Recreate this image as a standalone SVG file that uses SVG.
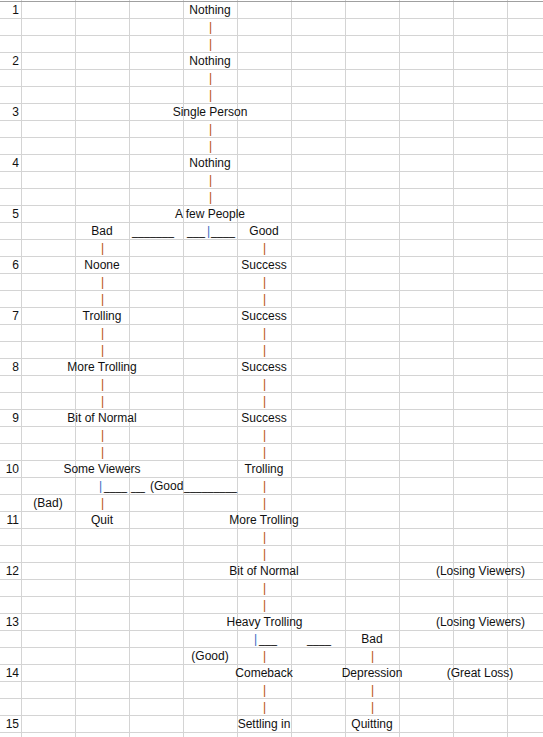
<svg xmlns="http://www.w3.org/2000/svg" width="543" height="737" viewBox="0 0 543 737">
<style>
.grid{stroke:#d4d4d4;stroke-width:1;fill:none}
.top{stroke:#a0a0a0;stroke-width:1}
text{font-family:"Liberation Sans",Arial,sans-serif;font-size:12px;fill:#111}
.c{text-anchor:middle}
.n{text-anchor:end}
.s{text-anchor:start}
.p{fill:#b84e0c;text-anchor:middle}
.b{fill:#3c6cc4;text-anchor:middle}
</style>
<rect x="0" y="0" width="543" height="737" fill="#fff"/>
<g id="grid">
<path class="grid" d="M21.5 0V737M75.5 0V737M129.5 0V737M183.5 0V737M237.5 0V737M291.5 0V737M345.5 0V737M399.5 0V737M453.5 0V737M507.5 0V737"/>
<path class="grid" d="M0 18.5H543M0 35.5H543M0 52.5H543M0 69.5H543M0 86.5H543M0 103.5H543M0 120.5H543M0 137.5H543M0 154.5H543M0 171.5H543M0 188.5H543M0 205.5H543M0 222.5H543M0 239.5H543M0 256.5H543M0 273.5H543M0 290.5H543M0 307.5H543M0 324.5H543M0 341.5H543M0 358.5H543M0 375.5H543M0 392.5H543M0 409.5H543M0 426.5H543M0 443.5H543M0 460.5H543M0 477.5H543M0 494.5H543M0 511.5H543M0 528.5H543M0 545.5H543M0 562.5H543M0 579.5H543M0 596.5H543M0 613.5H543M0 630.5H543M0 647.5H543M0 664.5H543M0 681.5H543M0 698.5H543M0 715.5H543M0 732.5H543"/>
<line class="top" x1="0" y1="1.5" x2="543" y2="1.5"/>
</g>
<g id="row-numbers">
<text class="n" x="19" y="13.5">1</text>
<text class="n" x="19" y="64.5">2</text>
<text class="n" x="19" y="115.5">3</text>
<text class="n" x="19" y="166.5">4</text>
<text class="n" x="19" y="217.5">5</text>
<text class="n" x="19" y="268.5">6</text>
<text class="n" x="19" y="319.5">7</text>
<text class="n" x="19" y="370.5">8</text>
<text class="n" x="19" y="421.5">9</text>
<text class="n" x="19" y="472.5">10</text>
<text class="n" x="19" y="523.5">11</text>
<text class="n" x="19" y="574.5">12</text>
<text class="n" x="19" y="625.5">13</text>
<text class="n" x="19" y="676.5">14</text>
<text class="n" x="19" y="727.5">15</text>
</g>
<g id="connectors">
<text class="p" x="210.5" y="30.5">|</text><text class="p" x="210.5" y="47.5">|</text>
<text class="p" x="210.5" y="81.5">|</text><text class="p" x="210.5" y="98.5">|</text>
<text class="p" x="210.5" y="132.5">|</text><text class="p" x="210.5" y="149.5">|</text>
<text class="p" x="210.5" y="183.5">|</text><text class="p" x="210.5" y="200.5">|</text>
<text class="s" x="132" y="234.5" textLength="42" lengthAdjust="spacingAndGlyphs">_______</text>
<text class="s" x="187" y="234.5" textLength="18" lengthAdjust="spacingAndGlyphs">___</text>
<text class="b" x="208.5" y="234.5">|</text>
<text class="s" x="211" y="234.5" textLength="24" lengthAdjust="spacingAndGlyphs">____</text>
<text class="p" x="102.5" y="251.5">|</text><text class="p" x="264.5" y="251.5">|</text>
<text class="p" x="102.5" y="285.5">|</text><text class="p" x="264.5" y="285.5">|</text>
<text class="p" x="102.5" y="302.5">|</text><text class="p" x="264.5" y="302.5">|</text>
<text class="p" x="102.5" y="336.5">|</text><text class="p" x="264.5" y="336.5">|</text>
<text class="p" x="102.5" y="353.5">|</text><text class="p" x="264.5" y="353.5">|</text>
<text class="p" x="102.5" y="387.5">|</text><text class="p" x="264.5" y="387.5">|</text>
<text class="p" x="102.5" y="404.5">|</text><text class="p" x="264.5" y="404.5">|</text>
<text class="p" x="102.5" y="438.5">|</text><text class="p" x="264.5" y="438.5">|</text>
<text class="p" x="102.5" y="455.5">|</text><text class="p" x="264.5" y="455.5">|</text>
<text class="b" x="100.5" y="489.5">|</text>
<text class="s" x="104" y="489.5" textLength="23" lengthAdjust="spacingAndGlyphs">____</text>
<text class="s" x="131" y="489.5" textLength="14" lengthAdjust="spacingAndGlyphs">___</text>
<text class="s" x="184" y="489.5" textLength="53" lengthAdjust="spacingAndGlyphs">_________</text>
<text class="p" x="264.5" y="489.5">|</text>
<text class="p" x="102.5" y="506.5">|</text><text class="p" x="264.5" y="506.5">|</text>
<text class="p" x="264.5" y="540.5">|</text><text class="p" x="264.5" y="557.5">|</text>
<text class="p" x="264.5" y="591.5">|</text><text class="p" x="264.5" y="608.5">|</text>
<text class="b" x="255.5" y="642.5">|</text>
<text class="s" x="259" y="642.5" textLength="18" lengthAdjust="spacingAndGlyphs">___</text>
<text class="s" x="307" y="642.5" textLength="24" lengthAdjust="spacingAndGlyphs">____</text>
<text class="p" x="264.5" y="659.5">|</text><text class="p" x="372.5" y="659.5">|</text>
<text class="p" x="264.5" y="693.5">|</text><text class="p" x="372.5" y="693.5">|</text>
<text class="p" x="264.5" y="710.5">|</text><text class="p" x="372.5" y="710.5">|</text>
</g>
<g id="n1"><text class="c" x="210" y="13.5">Nothing</text></g>
<g id="n2"><text class="c" x="210" y="64.5">Nothing</text></g>
<g id="n3"><text class="c" x="210" y="115.5">Single Person</text></g>
<g id="n4"><text class="c" x="210" y="166.5">Nothing</text></g>
<g id="n5"><text class="c" x="210" y="217.5">A few People</text></g>
<g id="bad1"><text class="c" x="102" y="234.5">Bad</text></g>
<g id="good1"><text class="c" x="264" y="234.5">Good</text></g>
<g id="noone"><text class="c" x="102" y="268.5">Noone</text></g>
<g id="success1"><text class="c" x="264" y="268.5">Success</text></g>
<g id="trolling1"><text class="c" x="102" y="319.5">Trolling</text></g>
<g id="success2"><text class="c" x="264" y="319.5">Success</text></g>
<g id="moretrolling1"><text class="c" x="102" y="370.5">More Trolling</text></g>
<g id="success3"><text class="c" x="264" y="370.5">Success</text></g>
<g id="bitofnormal1"><text class="c" x="102" y="421.5">Bit of Normal</text></g>
<g id="success4"><text class="c" x="264" y="421.5">Success</text></g>
<g id="someviewers"><text class="c" x="102" y="472.5">Some Viewers</text></g>
<g id="trolling2"><text class="c" x="264" y="472.5">Trolling</text></g>
<g id="good2"><text class="s" x="150" y="489.5">(Good</text></g>
<g id="bad2"><text class="c" x="48" y="506.5">(Bad)</text></g>
<g id="quit"><text class="c" x="102" y="523.5">Quit</text></g>
<g id="moretrolling2"><text class="c" x="264" y="523.5">More Trolling</text></g>
<g id="bitofnormal2"><text class="c" x="264" y="574.5">Bit of Normal</text></g>
<g id="losing1"><text class="c" x="480.5" y="574.5">(Losing Viewers)</text></g>
<g id="heavytrolling"><text class="c" x="264.5" y="625.5">Heavy Trolling</text></g>
<g id="losing2"><text class="c" x="480.5" y="625.5">(Losing Viewers)</text></g>
<g id="bad3"><text class="c" x="372" y="642.5">Bad</text></g>
<g id="good3"><text class="c" x="210" y="659.5">(Good)</text></g>
<g id="comeback"><text class="c" x="264" y="676.5">Comeback</text></g>
<g id="depression"><text class="c" x="372" y="676.5">Depression</text></g>
<g id="greatloss"><text class="c" x="480" y="676.5">(Great Loss)</text></g>
<g id="settling"><text class="c" x="264" y="727.5">Settling in</text></g>
<g id="quitting"><text class="c" x="372" y="727.5">Quitting</text></g>
</svg>
